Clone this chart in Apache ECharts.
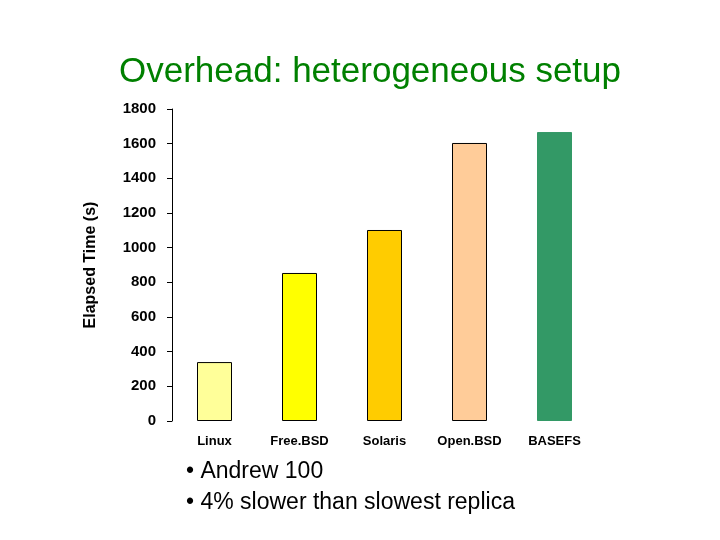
<!DOCTYPE html>
<html><head><meta charset="utf-8">
<script src="https://cdn.jsdelivr.net/npm/echarts@6/dist/echarts.min.js"></script>
<style>html,body{margin:0;background:#fff}#c{width:720px;height:540px}</style>
</head><body><div id="c"></div>
<script>
const categories = ['Linux','Free.BSD','Solaris','Open.BSD','BASEFS'];
const values = [340, 854, 1102, 1604, 1667];
const barColors = ['#ffff99','#ffff00','#ffcc00','#ffcc99','#339966'];
const bullets = ['• Andrew 100','• 4% slower than slowest replica'];
const chart = echarts.init(document.getElementById('c'));
chart.setOption({
  animation:false,
  title:{text:'Overhead: heterogeneous setup',left:365,top:50,textAlign:'center',
    textStyle:{color:'#008000',fontSize:35,fontWeight:'normal',fontFamily:'Liberation Sans'}},
  graphic:bullets.map((t,i)=>({type:'text',left:186,top:460+i*31,
    style:{text:t,fontSize:23,fill:'#000',fontFamily:'Liberation Sans'}})),
  grid:{left:172,right:123,top:109,bottom:119},
  xAxis:{type:'category',data:categories,
    axisLine:{show:false},axisTick:{show:false},
    axisLabel:{fontWeight:'bold',fontSize:13,color:'#000',fontFamily:'Liberation Sans',margin:14}},
  yAxis:{type:'value',min:0,max:1800,interval:200,name:'Elapsed Time (s)',
    nameLocation:'middle',nameGap:73,nameRotate:90,
    nameTextStyle:{fontWeight:'bold',fontSize:16,color:'#000',fontFamily:'Liberation Sans'},
    axisLine:{show:true,lineStyle:{color:'#000'}},
    axisTick:{show:true,inside:false,length:5,lineStyle:{color:'#000'}},
    splitLine:{show:false},
    axisLabel:{fontWeight:'bold',fontSize:15,color:'#000',fontFamily:'Liberation Sans',margin:16,
      formatter:v=>String(v)}},
  series:[{type:'bar',barWidth:35,
    data:values.map((v,i)=>({value:v,itemStyle:{color:barColors[i],
      borderColor: i===4?'#339966':'#000',borderWidth:1}}))}]
});
</script></body></html>
